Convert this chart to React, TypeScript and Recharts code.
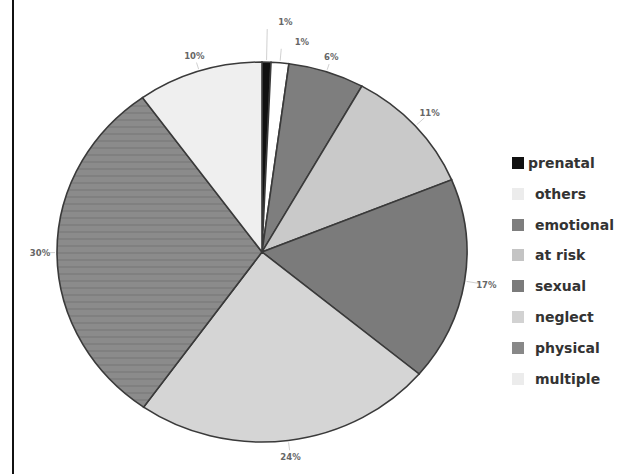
import React from 'react';
import { PieChart, Pie, Cell } from 'recharts';

const categories = ['prenatal', 'others', 'emotional', 'at risk', 'sexual', 'neglect', 'physical', 'multiple'];
const shares = [0.7, 1.4, 6, 10.7, 17.3, 23.7, 30.3, 9.9];
const shareLabels = ['1%', '1%', '6%', '11%', '17%', '24%', '30%', '10%'];

const fills = ['#111111', '#ffffff', '#7e7e7e', '#c9c9c9', '#7b7b7b', '#d5d5d5', 'url(#stripes)', '#efefef'];
const swatches = ['#111111', '#ececec', '#7e7e7e', '#c4c4c4', '#7b7b7b', '#d2d2d2', '#888888', '#ececec'];
// label distance beyond the rim, and a sideways nudge for the crowded ones at the top
const labelGap = [40, 21, 15, 19, 22, 17, 17, 16];
const labelDx = [18, 20, 0, 0, 0, 0, 0, 0];
const textStart = [528, 535, 535, 535, 535, 535, 535, 535];

const data = categories.map((name, i) => ({ name, value: shares[i], label: shareLabels[i] }));

const RADIAN = Math.PI / 180;
const RX = 205;
const RY = 190;
const CX = 262;
const CY = 252;

const renderLabel = (props: any) => {
  const { midAngle, index } = props;
  const cos = Math.cos(-midAngle * RADIAN);
  const sin = Math.sin(-midAngle * RADIAN);
  const g = labelGap[index];
  const x0 = CX + (RX + 2) * cos;
  const y0 = CY + (RY + 2) * sin;
  const x1 = CX + (RX + g - 7) * cos;
  const y1 = CY + (RY + g - 7) * sin;
  const x = CX + (RX + g) * cos + labelDx[index];
  const y = CY + (RY + g) * sin;
  return (
    <g>
      <line x1={x0} y1={y0} x2={x1} y2={y1} stroke="#c4c4c4" strokeWidth={0.8} />
      <text
        x={x} y={y}
        textAnchor="middle" dominantBaseline="central"
        fontSize={8.5} fontWeight="bold" fill="#666666"
        fontFamily="DejaVu Sans, sans-serif"
      >
        {data[index].label}
      </text>
    </g>
  );
};

export default function App() {
  return (
    <div style={{ position: 'absolute', left: 0, top: 0, width: 635, height: 474, background: '#fff', overflow: 'hidden' }}>
      <div style={{ position: 'absolute', left: 12, top: 0, width: 2, height: 474, background: '#111' }} />
      <div style={{ position: 'absolute', left: 0, top: 0, transform: `scaleX(${RX / RY})`, transformOrigin: `${CX}px ${CY}px` }}>
        <PieChart width={500} height={474} margin={{ top: 0, right: 0, bottom: 0, left: 0 }}>
          <defs>
            <pattern id="stripes" width="8" height="7" patternUnits="userSpaceOnUse">
              <rect width="8" height="7" fill="#8b8b8b" />
              <rect y="0" width="8" height="2" fill="#808080" />
            </pattern>
          </defs>
          <Pie
            data={data}
            dataKey="value"
            nameKey="name"
            cx={CX}
            cy={CY}
            outerRadius={RY}
            startAngle={90}
            endAngle={-270}
            stroke="#3a3a3a"
            strokeWidth={1.5}
            label={false}
            labelLine={false}
            isAnimationActive={false}
          >
            {data.map((d, i) => (
              <Cell key={d.name} fill={fills[i]} />
            ))}
          </Pie>
        </PieChart>
      </div>
      <div style={{ position: 'absolute', left: 0, top: 0 }}>
        <PieChart width={500} height={474} margin={{ top: 0, right: 0, bottom: 0, left: 0 }}>
          <Pie
            data={data}
            dataKey="value"
            nameKey="name"
            cx={CX}
            cy={CY}
            outerRadius={RY}
            startAngle={90}
            endAngle={-270}
            fill="none"
            stroke="none"
            label={renderLabel}
            labelLine={false}
            isAnimationActive={false}
          />
        </PieChart>
      </div>
      {categories.map((c, i) => (
        <div key={c} style={{ position: 'absolute', left: 0, top: 163 + i * 30.8 - 8 }}>
          <span style={{ position: 'absolute', left: 512, top: 2, width: 12, height: 12, background: swatches[i] }} />
          <span style={{
            position: 'absolute', left: textStart[i], top: 0, whiteSpace: 'nowrap',
            fontFamily: 'DejaVu Sans, sans-serif', fontSize: 14, fontWeight: 'bold', color: '#333', lineHeight: '16px',
          }}>{c}</span>
        </div>
      ))}
    </div>
  );
}
